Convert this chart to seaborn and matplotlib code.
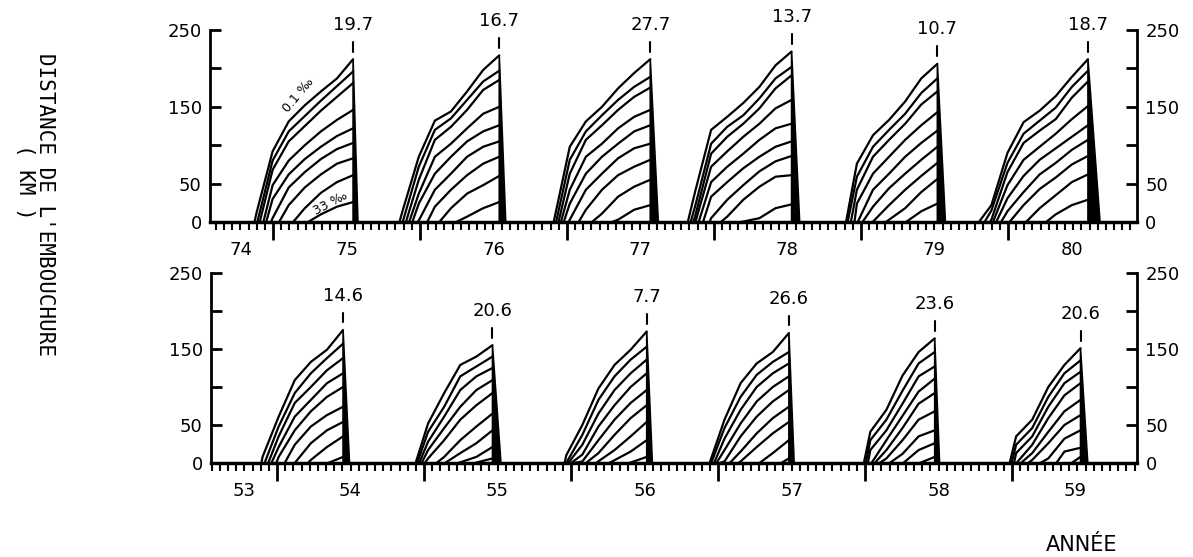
import numpy as np
import pandas as pd
import matplotlib
matplotlib.use("Agg")
import matplotlib.pyplot as plt
import seaborn as sns
from matplotlib.ticker import MultipleLocator

# days (relative to the peak of the season) at which the isohalines were read
grid_days = [-240, -200, -160, -120, -80, -40, 0]

# --- 1975-1980 seasons (top panel) ---
top_years = [1975, 1976, 1977, 1978, 1979, 1980]
top_peaks = ["19.7", "16.7", "27.7", "13.7", "10.7", "18.7"]
top_recess = [12, 16, 20, 20, 20, 30]   # days until the salt is flushed out

# each row: [start day, km at each grid day] (None = not yet started)
iso_1975 = [
    [-245, 12, 92, 131, 152, 170, 187, 212],
    [-238, None, 80, 118, 138, 158, 177, 196],
    [-232, None, 68, 105, 125, 145, 163, 181],
    [-223, None, 48, 80, 100, 118, 133, 146],
    [-216, None, 30, 62, 82, 98, 112, 122],
    [-204, None, 5, 45, 65, 82, 95, 103],
    [-184, None, None, 22, 45, 62, 76, 83],
    [-149, None, None, None, 18, 38, 52, 61],
    [-112, None, None, None, None, 10, 20, 26],
]
iso_1976 = [
    [-248, 15, 85, 132, 144, 170, 198, 217],
    [-240, None, 72, 120, 135, 159, 183, 197],
    [-232, None, 55, 107, 124, 146, 172, 185],
    [-224, None, 37, 85, 102, 122, 141, 150],
    [-216, None, 24, 63, 85, 105, 118, 126],
    [-204, None, 2, 42, 63, 85, 98, 105],
    [-179, None, None, 20, 42, 61, 76, 85],
    [-149, None, None, None, 18, 37, 48, 60],
    [-107, None, None, None, None, 7, 18, 26],
]
iso_1977 = [
    [-240, None, 98, 131, 150, 174, 194, 212],
    [-234, None, 81, 118, 139, 159, 176, 189],
    [-228, None, 63, 107, 126, 146, 163, 175],
    [-222, None, 42, 85, 102, 122, 137, 146],
    [-215, None, 24, 63, 85, 102, 118, 126],
    [-203, None, 3, 42, 63, 83, 96, 102],
    [-178, None, None, 16, 42, 61, 72, 81],
    [-145, None, None, None, 11, 33, 46, 55],
    [-95, None, None, None, None, 3, 16, 22],
]
iso_1978 = [
    [-258, 39, 120, 137, 155, 176, 204, 222],
    [-251, 20, 102, 124, 139, 161, 187, 202],
    [-245, 7, 89, 111, 128, 148, 174, 191],
    [-239, None, 72, 92, 111, 128, 148, 159],
    [-231, None, 52, 72, 89, 107, 122, 128],
    [-220, None, 33, 52, 70, 85, 98, 105],
    [-204, None, 5, 29, 48, 66, 79, 86],
    [-176, None, None, 7, 29, 46, 59, 61],
    [-126, None, None, None, None, 5, 18, 23],
]
iso_1979 = [
    [-227, None, 76, 113, 133, 157, 187, 206],
    [-223, None, 59, 98, 120, 141, 168, 187],
    [-215, None, 42, 85, 107, 128, 153, 170],
    [-206, None, 24, 63, 85, 107, 126, 143],
    [-198, None, None, 42, 63, 85, 103, 119],
    [-186, None, None, 20, 44, 63, 81, 98],
    [-161, None, None, None, 22, 42, 60, 77],
    [-128, None, None, None, None, 18, 39, 56],
    [-78, None, None, None, None, None, 14, 24],
]
iso_1980 = [
    [-271, 22, 90, 130, 145, 164, 189, 212],
    [-257, 15, 77, 115, 132, 149, 176, 197],
    [-244, 3, 65, 103, 119, 134, 162, 183],
    [-236, None, 48, 81, 98, 115, 134, 151],
    [-228, None, 31, 60, 81, 96, 111, 126],
    [-216, None, 14, 39, 62, 77, 94, 107],
    [-195, None, None, 22, 43, 58, 75, 86],
    [-154, None, None, None, 18, 35, 52, 62],
    [-104, None, None, None, None, 10, 22, 29],
]

# --- 1954-1959 seasons (bottom panel) ---
bot_years = [1954, 1955, 1956, 1957, 1958, 1959]
bot_peaks = ["14.6", "20.6", "7.7", "26.6", "23.6", "20.6"]
bot_recess = [16, 21, 14, 13, 12, 18]

iso_1954 = [
    [-203, None, 8, 61, 109, 133, 149, 175],
    [-195, None, None, 48, 92, 118, 138, 157],
    [-186, None, None, 35, 79, 100, 122, 138],
    [-178, None, None, 21, 61, 83, 105, 118],
    [-166, None, None, 8, 43, 68, 87, 100],
    [-145, None, None, None, 24, 48, 63, 74],
    [-120, None, None, None, None, 26, 43, 54],
    [-87, None, None, None, None, 4, 21, 35],
    [-37, None, None, None, None, None, None, 8],
]
iso_1955 = [
    [-191, None, None, 52, 92, 129, 140, 155],
    [-187, None, None, 41, 74, 114, 127, 140],
    [-182, None, None, 28, 61, 96, 114, 125],
    [-176, None, None, 17, 46, 74, 96, 109],
    [-168, None, None, 6, 30, 57, 76, 92],
    [-139, None, None, None, 8, 30, 48, 65],
    [-118, None, None, None, None, 13, 26, 43],
    [-85, None, None, None, None, None, 8, 21],
    [-44, None, None, None, None, None, None, 6],
]
iso_1956 = [
    [-204, None, 10, 50, 98, 129, 149, 173],
    [-200, None, None, 37, 83, 114, 136, 153],
    [-195, None, None, 24, 65, 96, 118, 136],
    [-188, None, None, 11, 48, 76, 100, 118],
    [-180, None, None, 2, 30, 57, 79, 96],
    [-151, None, None, None, 13, 37, 59, 76],
    [-126, None, None, None, None, 17, 35, 54],
    [-93, None, None, None, None, None, 15, 30],
    [-43, None, None, None, None, None, None, 8],
]
iso_1957 = [
    [-197, None, None, 57, 105, 131, 146, 171],
    [-193, None, None, 46, 87, 116, 133, 146],
    [-186, None, None, 32, 70, 100, 118, 131],
    [-180, None, None, 17, 52, 81, 100, 114],
    [-172, None, None, 2, 35, 61, 81, 96],
    [-147, None, None, None, 15, 39, 59, 74],
    [-126, None, None, None, 2, 21, 39, 54],
    [-73, None, None, None, None, None, 13, 30],
    [-19, None, None, None, None, None, None, 6],
]
iso_1958 = [
    [-176, None, None, 41, 70, 115, 146, 164],
    [-171, None, None, 30, 57, 95, 131, 146],
    [-166, None, None, 17, 43, 78, 114, 127],
    [-157, None, None, None, 30, 62, 94, 111],
    [-149, None, None, None, 17, 46, 78, 92],
    [-137, None, None, None, 6, 30, 57, 68],
    [-112, None, None, None, None, 12, 35, 43],
    [-78, None, None, None, None, None, 17, 26],
    [-37, None, None, None, None, None, None, 8],
]
iso_1959 = [
    [-176, None, None, 35, 57, 100, 129, 151],
    [-171, None, None, 24, 46, 87, 118, 135],
    [-165, None, None, 13, 35, 74, 105, 120],
    [-159, None, None, None, 24, 59, 89, 105],
    [-148, None, None, None, 13, 41, 68, 83],
    [-130, None, None, None, 4, 26, 50, 63],
    [-100, None, None, None, None, 6, 32, 43],
    [-60, None, None, None, None, None, 15, 20],
    [-22, None, None, None, None, None, None, 8],
]

top_iso = [iso_1975, iso_1976, iso_1977, iso_1978, iso_1979, iso_1980]
bot_iso = [iso_1954, iso_1955, iso_1956, iso_1957, iso_1958, iso_1959]

yticks = [0, 50, 100, 150, 200, 250]
ylabels = ["0", "50", "", "150", "", "250"]


def peak_time(year, peak):
    day, month = peak.split(".")
    ts = pd.Timestamp(year=year, month=int(month), day=int(day))
    return year + (ts.dayofyear - 1) / 365.25


def build_frame(years, peaks, isos):
    recs = []
    for year, peak, rows in zip(years, peaks, isos):
        tp = peak_time(year, peak)
        for i, row in enumerate(rows):
            unit = f"{year}-{i}"
            recs.append((unit, tp + row[0] / 365.25, 0.0))
            for d, v in zip(grid_days, row[1:]):
                if v is not None:
                    recs.append((unit, tp + d / 365.25, v))
    return pd.DataFrame(recs, columns=["line", "t", "km"])


def draw_panel(ax, years, peaks, recess, isos, xlim):
    df = build_frame(years, peaks, isos)
    sns.lineplot(data=df, x="t", y="km", units="line", estimator=None,
                 color="black", linewidth=1.6, legend=False, ax=ax,
                 solid_joinstyle="round", solid_capstyle="round")

    for year, peak, rec, rows in zip(years, peaks, recess, isos):
        tp = peak_time(year, peak)
        top = rows[0][-1]
        # salt flushed out quickly after the peak: dark wedge
        ax.fill([tp, tp, tp + rec / 365.25], [0, top, 0],
                color="black", lw=1.2)
        ax.plot([tp, tp], [top + 10, top + 23], color="black", lw=1.5,
                clip_on=False)
        ax.text(tp, top + 45, peak, ha="center", va="center", fontsize=13,
                clip_on=False)

    ax.set_xlim(*xlim)
    ax.set_ylim(0, 250)
    ax.set_xlabel("")
    ax.set_ylabel("")

    ax.xaxis.set_major_locator(MultipleLocator(1))
    ax.xaxis.set_minor_locator(MultipleLocator(1 / 18))
    ax.tick_params(axis="x", which="major", direction="out", length=13,
                   width=2, labelbottom=False, bottom=True)
    ax.tick_params(axis="x", which="minor", direction="out", length=6,
                   width=1.5, bottom=True)

    ax.set_yticks(yticks)
    ax.set_yticklabels(ylabels)
    ax.tick_params(axis="y", which="major", direction="in", length=8,
                   width=2, left=True, right=True, labelleft=True,
                   labelright=True, labelsize=13, pad=6)

    for side in ["left", "right"]:
        ax.spines[side].set_linewidth(2)
    ax.spines["bottom"].set_linewidth(2.5)
    ax.spines["top"].set_visible(False)

    # year labels, centred on the visible part of each year
    for y in range(int(np.floor(xlim[0])), int(np.ceil(xlim[1]))):
        lo, hi = max(y, xlim[0]), min(y + 1, xlim[1])
        ax.annotate(f"{y % 100:02d}", xy=((lo + hi) / 2, 0),
                    xycoords=("data", "axes fraction"), xytext=(0, -20),
                    textcoords="offset points", ha="center", va="center",
                    fontsize=13)


sns.set_theme(style="white")
plt.rcParams.update({
    "axes.edgecolor": "black",
    "text.color": "black",
    "xtick.color": "black",
    "ytick.color": "black",
    "axes.facecolor": "white",
})
plt.rcParams["font.family"] = ["DejaVu Sans"]

fig = plt.figure(figsize=(11.93, 5.57), dpi=100)
ax_top = fig.add_axes([0.1760, 0.6014, 0.7770, 0.3447])
ax_bot = fig.add_axes([0.1769, 0.1688, 0.7762, 0.3411])

draw_panel(ax_top, top_years, top_peaks, top_recess, top_iso,
           (1974.571, 1980.878))
draw_panel(ax_bot, bot_years, bot_peaks, bot_recess, bot_iso,
           (1953.551, 1959.850))

# isohaline tags on the first season
tp75 = peak_time(1975, "19.7")
ax_top.text(tp75 - 136 / 365.25, 165, "0.1 ‰", rotation=50, fontsize=9,
            ha="center", va="center")
ax_top.text(tp75 - 55 / 365.25, 24, "33 ‰", rotation=28, fontsize=9,
            ha="center", va="center")

fig.text(45 / 1193, 1 - 205 / 557, "DISTANCE DE L'EMBOUCHURE", rotation=270,
         ha="center", va="center", fontsize=15, family="DejaVu Sans Mono")
fig.text(25 / 1193, 1 - 182 / 557, "( KM )", rotation=270,
         ha="center", va="center", fontsize=15, family="DejaVu Sans Mono")
fig.text(1082 / 1193, 1 - 545 / 557, "ANNÉE", ha="center", va="center",
         fontsize=15)

fig.savefig("out.png", dpi=100)
plt.close(fig)
